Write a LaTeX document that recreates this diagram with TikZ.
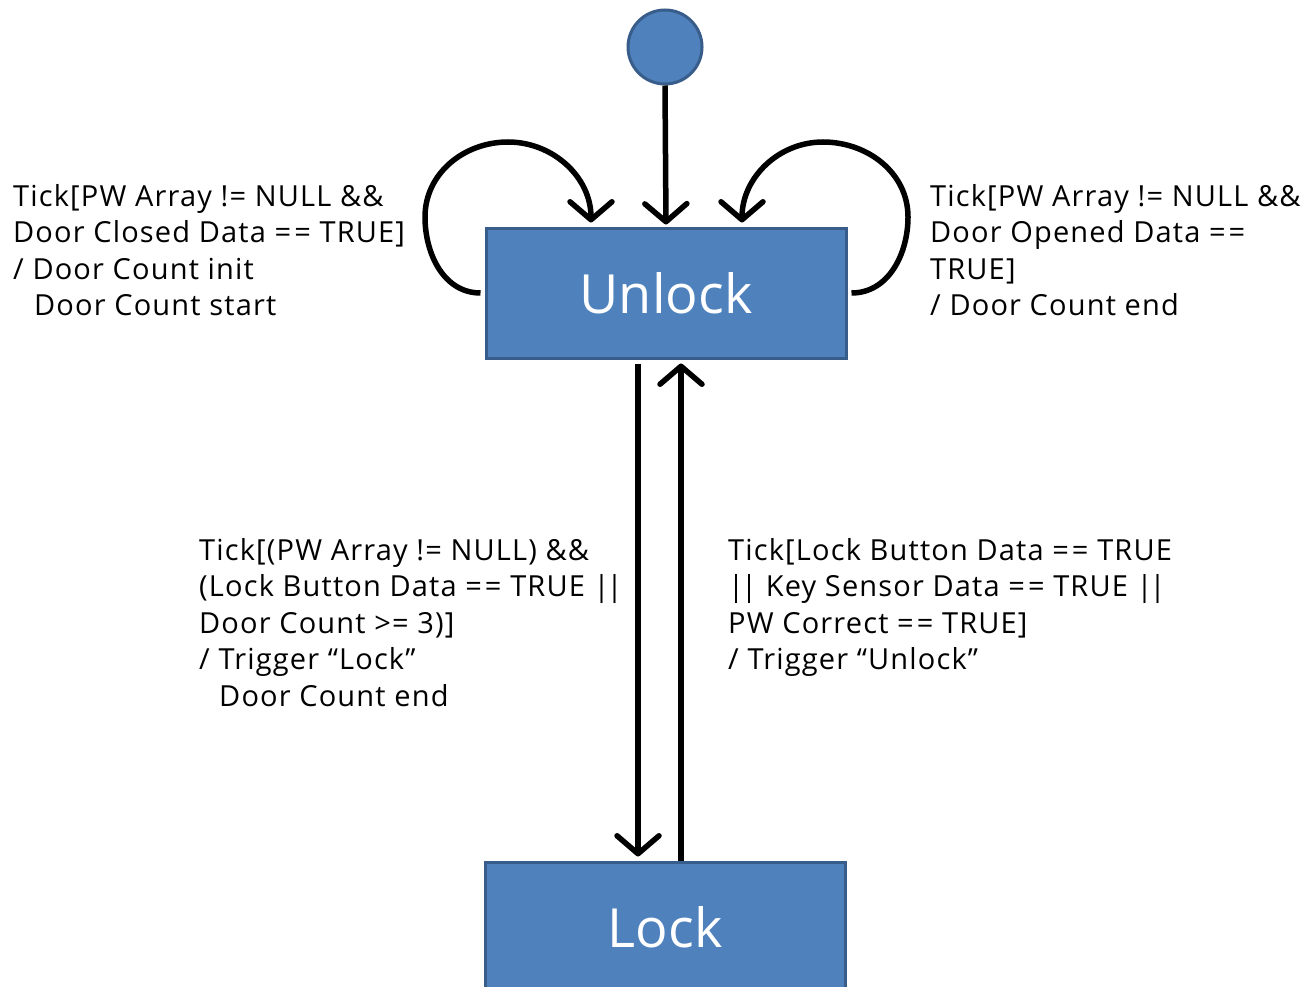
\documentclass[tikz,border=0pt]{standalone}
\usepackage{fontspec}
\setmainfont{Open Sans}
\newfontfamily\lblfont[LetterSpace=4]{Open Sans}
\usetikzlibrary{arrows.meta}
\definecolor{boxfill}{HTML}{4F81BD}
\definecolor{boxline}{HTML}{385D8A}
\newcommand{\txtlines}[1]{\vtop{\baselineskip=36.5pt\lineskiplimit=-20pt #1}}
\newcommand{\eqeq}{=\kern3pt=}
\newcommand{\oror}{|\kern-3pt|}
\tikzset{
  statebox/.style={draw=boxline, line width=3pt, fill=boxfill, minimum width=360pt, minimum height=130pt, inner sep=0pt, text=white, font=\fontsize{54}{60}\selectfont},
  initstate/.style={circle, draw=boxline, line width=3pt, fill=boxfill, minimum size=74pt, inner sep=0pt},
  arr/.style={line width=5.5pt, -{Straight Barb[length=18pt, width=42pt, round]}},
  lbl/.style={anchor=base west, inner sep=0pt, font=\lblfont\fontsize{29}{36.5}\selectfont, text=black}
}
\begin{document}
\begin{tikzpicture}[x=1pt, y=-1pt]
\useasboundingbox (0,0) rectangle (1308,987);
\fill[white] (0,0) rectangle (1308,987);
\begin{scope}
\clip (0,0) rectangle (1308,987);
\node[statebox] (unlock) at (666,293) {Unlock};
\node[statebox] (lock) at (665,927) {Lock};
\node[initstate] (init) at (665,47) {};

\draw[arr] (init.south) -- ([yshift=2pt]unlock.north);
\draw[arr] ([xshift=-4pt]unlock.west) to[out=180,in=270] (425,217) to[out=90,in=180] (508,142) to[out=0,in=90] ([xshift=-75pt,yshift=4pt]unlock.north);
\draw[arr] ([xshift=4pt]unlock.east) to[out=0,in=270] (908,217) to[out=90,in=0] (823,142) to[out=180,in=90] ([xshift=76pt,yshift=4pt]unlock.north);
\draw[arr] ([xshift=-28pt,yshift=-4pt]unlock.south) -- ([xshift=-27pt,yshift=4pt]lock.north);
\draw[arr] ([xshift=16pt]lock.north) -- ([xshift=15pt,yshift=-4pt]unlock.south);
\end{scope}

\node[lbl] (t1) at (13,206) {\txtlines{\hbox{Tick[PW Array != NULL \&\&}\hbox{Door Closed Data \eqeq{} TRUE]}\hbox{/ Door Count init}\hbox{\hspace{21pt}Door Count start}}};
\node[lbl] (t2) at (930,206) {\txtlines{\hbox{Tick[PW Array != NULL \&\&}\hbox{Door Opened Data \eqeq}\hbox{TRUE]}\hbox{/ Door Count end}}};
\node[lbl] (t3) at (199,560) {\txtlines{\hbox{Tick[(PW Array != NULL) \&\&}\hbox{(Lock Button Data \eqeq{} TRUE \oror}\hbox{Door Count >= 3)]}\hbox{/ Trigger “Lock”}\hbox{\hspace{20pt}Door Count end}}};
\node[lbl] (t4) at (728,560) {\txtlines{\hbox{Tick[Lock Button Data \eqeq{} TRUE}\hbox{\oror{} Key Sensor Data \eqeq{} TRUE \oror}\hbox{PW Correct \eqeq{} TRUE]}\hbox{/ Trigger “Unlock”}}};
\end{tikzpicture}
\end{document}
